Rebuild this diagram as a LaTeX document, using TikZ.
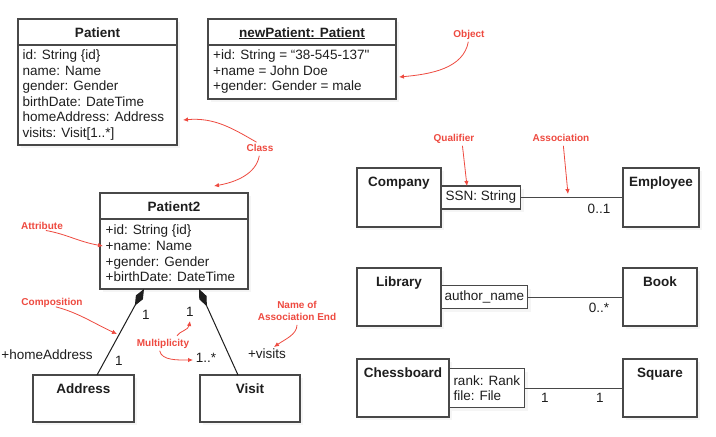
\documentclass[tikz,border=0pt]{standalone}
\usepackage{fontspec}
\setmainfont{Liberation Sans}
\usepackage{xcolor}
\usepackage{tikz}
\usetikzlibrary{arrows.meta,positioning,calc,shadows}

\definecolor{boxgray}{RGB}{72,72,72}
\definecolor{inkgray}{RGB}{30,30,30}
\definecolor{notered}{RGB}{238,74,64}
\newcommand{\umltext}{\fontsize{13.5}{15.6}\selectfont}
\newcommand{\notetext}{\fontsize{10}{12}\selectfont\bfseries}

\begin{document}
\begin{tikzpicture}[x=1pt,y=-1pt]
        \tikzstyle{umlbox} = [draw=boxgray, line width=1.2pt, fill=white, anchor=north west, inner sep=0pt, outer sep=0pt, drop shadow={shadow xshift=3pt, shadow yshift=-3pt, opacity=0.08}]
        \tikzstyle{qual} = [draw=boxgray, line width=1.2pt, fill=white, font=\umltext, text=inkgray, align=left, inner xsep=4.5pt, outer sep=0pt, minimum height=23pt, drop shadow={shadow xshift=3pt, shadow yshift=-3pt, opacity=0.08}]
        \tikzstyle{clsname} = [font=\umltext\bfseries, text=inkgray, inner sep=0pt, text height=9.7pt, text depth=0pt]
        \tikzstyle{attrs} = [font=\umltext, text=inkgray, align=left, inner sep=0pt]
        \tikzstyle{mult} = [font=\umltext, text=inkgray, inner sep=0pt, text height=9.7pt, text depth=0pt]
        \tikzstyle{hdr} = [draw=boxgray, line width=1.2pt]
        \tikzstyle{assoc} = [draw=boxgray, line width=1pt]
        \tikzstyle{comp} = [draw=inkgray, line width=1pt, {Diamond[length=19pt,width=8pt]}-]
        \tikzstyle{notebase} = [font=\notetext, text=notered, inner sep=0pt]
        \tikzstyle{note} = [notebase, text height=7.2pt, text depth=0pt]
        \tikzstyle{notearrow} = [draw=notered, line width=0.8pt, shorten <=4pt, -{Latex[length=5pt,width=4.5pt]}]

        \path[use as bounding box, fill=white] (0,0) rectangle (716,437);

        \node[umlbox, minimum width=159pt, minimum height=126pt] (patient) at (18,19) {};
        \node[clsname, below=8.2pt of patient.north] (patientname) {Patient};
        \draw[hdr] ([yshift=-26pt]patient.north west) -- ([yshift=-26pt]patient.north east);
        \node[attrs, below right=30.5pt and 4.5pt of patient.north west] (patientattrs) {id: String \{id\}\\name: Name\\gender: Gender\\birthDate: DateTime\\homeAddress: Address\\visits: Visit[1..*]};

        \node[umlbox, minimum width=188pt, minimum height=80pt] (newpatient) at (208,19) {};
        \node[clsname, below=8.2pt of newpatient.north] (newpatientname) {\underline{newPatient: Patient}};
        \draw[hdr] ([yshift=-26pt]newpatient.north west) -- ([yshift=-26pt]newpatient.north east);
        \node[attrs, below right=30.5pt and 5pt of newpatient.north west] (newpatientattrs) {+id: String = “38-545-137\textquotedbl\\+name = John Doe\\+gender: Gender = male};

        \node[umlbox, minimum width=148pt, minimum height=96pt] (patient2) at (100,193) {};
        \node[clsname, below=8.2pt of patient2.north] (patient2name) {Patient2};
        \draw[hdr] ([yshift=-26pt]patient2.north west) -- ([yshift=-26pt]patient2.north east);
        \node[attrs, below right=32pt and 5.5pt of patient2.north west] (patient2attrs) {+id: String \{id\}\\+name: Name\\+gender: Gender\\+birthDate: DateTime};

        \node[umlbox, minimum width=101pt, minimum height=47pt] (address) at (33,375) {};
        \node[clsname, below=8.2pt of address.north] (addressname) {Address};
        \node[umlbox, minimum width=100pt, minimum height=47pt] (visit) at (200,375) {};
        \node[clsname, below=8.2pt of visit.north] (visitname) {Visit};

        \draw[comp] ($(patient2.south west)!0.297!(patient2.south east)$) -- ($(address.north west)!0.634!(address.north east)$);
        \draw[comp] ($(patient2.south west)!0.669!(patient2.south east)$) -- ($(visit.north west)!0.38!(visit.north east)$);

        \node[mult] (homeaddr) at (47,355) {+homeAddress};
        \node[mult] (addrone) at (119,361) {1};
        \node[mult] (patone) at (146,315) {1};
        \node[mult] (pattwo) at (190,312) {1};
        \node[mult] (visitmany) at (206,358) {1..*};
        \node[mult] (visitsend) at (267,354) {+visits};

        \node[umlbox, minimum width=84pt, minimum height=59pt] (company) at (357,168) {};
        \node[clsname, below=8.7pt of company.north] (companyname) {Company};
        \node[qual, right=0pt of company] (ssn) {SSN: String};
        \node[umlbox, minimum width=76pt, minimum height=59pt] (employee) at (623,168) {};
        \node[clsname, below=8.7pt of employee.north] (employeename) {Employee};
        \draw[assoc] (ssn.east) -- (ssn.east -| employee.west);
        \node[mult] (empmult) at (599,209) {0..1};

        \node[umlbox, minimum width=84pt, minimum height=58pt] (library) at (357,268) {};
        \node[clsname, below=8.2pt of library.north] (libraryname) {Library};
        \node[qual, right=0pt of library, inner xsep=3.5pt] (author) {author\_name};
        \node[umlbox, minimum width=74pt, minimum height=58pt] (book) at (623,268) {};
        \node[clsname, below=8.2pt of book.north] (bookname) {Book};
        \draw[assoc] (author.east) -- (author.east -| book.west);
        \node[mult] (bookmult) at (599,308) {0..*};

        \node[umlbox, minimum width=92pt, minimum height=58pt] (chessboard) at (357,359) {};
        \node[clsname, below=8.2pt of chessboard.north] (chessboardname) {Chessboard};
        \node[qual, right=0pt of chessboard, minimum height=39pt] (rankfile) {rank: Rank\\file: File};
        \node[umlbox, minimum width=74pt, minimum height=58pt] (square) at (623,359) {};
        \node[clsname, below=8.2pt of square.north] (squarename) {Square};
        \draw[assoc] (rankfile.east) -- (rankfile.east -| square.west);
        \node[mult] (boardone) at (545,398) {1};
        \node[mult] (squareone) at (600,398) {1};

        \node[note] (objectnote) at (469,34) {Object};
        \node[note] (classnote) at (260,148) {Class};
        \node[note] (attrnote) at (42,226) {Attribute};
        \node[note] (compnote) at (52,302) {Composition};
        \node[note] (multnote) at (163,343) {Multiplicity};
        \node[notebase, align=center] (endnote) at (297,311) {Name of\\Association End};
        \node[note] (qualnote) at (454,138) {Qualifier};
        \node[note] (assocnote) at (561,138) {Association};

        \coordinate (objecttip) at (399,77);
        \coordinate (classtip) at (183,120);
        \coordinate (classtiptwo) at (214,186);
        \coordinate (attrtip) at (103,246);
        \coordinate (comptip) at (117,334);
        \coordinate (multtip) at (190,321);
        \coordinate (multtiptwo) at (193,360);
        \coordinate (endtip) at (274,347);
        \coordinate (qualtip) at (467,186);
        \coordinate (assoctip) at (568,194);

        \draw[notearrow] (objectnote.south) to[out=-100,in=5] (objecttip);
        \draw[notearrow] (classnote.north) to[out=150,in=5] (classtip);
        \draw[notearrow] (classnote.south) to[out=-100,in=10] (classtiptwo);
        \draw[notearrow] (attrnote.south) to[out=-10,in=170] (attrtip);
        \draw[notearrow] (compnote.south) to[out=-15,in=155] (comptip);
        \draw[notearrow] ([xshift=12pt]multnote.north) to[out=60,in=-100] (multtip);
        \draw[notearrow] ([xshift=-4pt]multnote.south) to[out=-80,in=180] (multtiptwo);
        \draw[notearrow] (endnote.south) to[out=-90,in=35] (endtip);
        \draw[notearrow] ([xshift=8pt]qualnote.south) -- (qualtip);
        \draw[notearrow] ([xshift=2pt]assocnote.south) -- (assoctip);
\end{tikzpicture}
\end{document}
